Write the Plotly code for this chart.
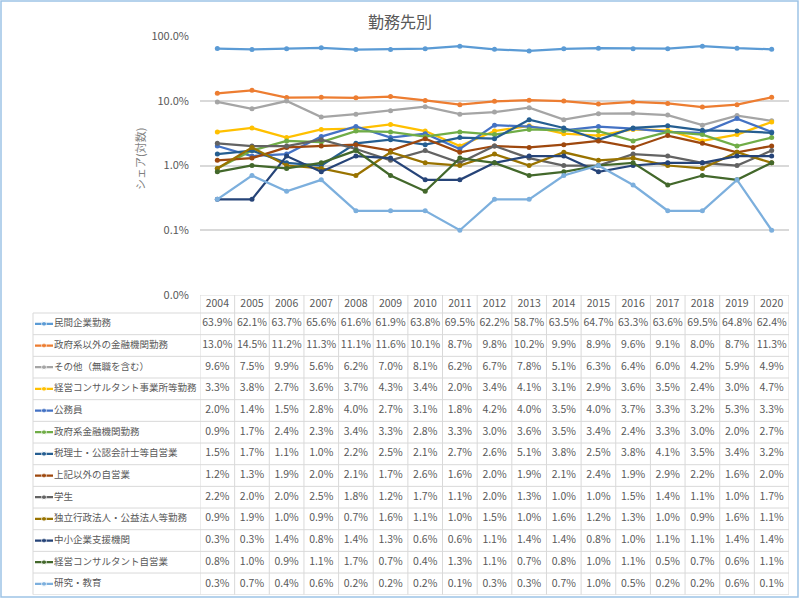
import plotly.graph_objects as go

years = list(range(2004, 2021))

series_names = [
    "民間企業勤務",
    "政府系以外の金融機関勤務",
    "その他（無職を含む）",
    "経営コンサルタント事業所等勤務",
    "公務員",
    "政府系金融機関勤務",
    "税理士・公認会計士等自営業",
    "上記以外の自営業",
    "学生",
    "独立行政法人・公益法人等勤務",
    "中小企業支援機関",
    "経営コンサルタント自営業",
    "研究・教育",
]

minkan = [63.9, 62.1, 63.7, 65.6, 61.6, 61.9, 63.8, 69.5, 62.2, 58.7, 63.5, 64.7, 63.3, 63.6, 69.5, 64.8, 62.4]
kinyu_other = [13.0, 14.5, 11.2, 11.3, 11.1, 11.6, 10.1, 8.7, 9.8, 10.2, 9.9, 8.9, 9.6, 9.1, 8.0, 8.7, 11.3]
sonota = [9.6, 7.5, 9.9, 5.6, 6.2, 7.0, 8.1, 6.2, 6.7, 7.8, 5.1, 6.3, 6.4, 6.0, 4.2, 5.9, 4.9]
consul_office = [3.3, 3.8, 2.7, 3.6, 3.7, 4.3, 3.4, 2.0, 3.4, 4.1, 3.1, 2.9, 3.6, 3.5, 2.4, 3.0, 4.7]
koumuin = [2.0, 1.4, 1.5, 2.8, 4.0, 2.7, 3.1, 1.8, 4.2, 4.0, 3.5, 4.0, 3.7, 3.3, 3.2, 5.3, 3.3]
kinyu_gov = [0.9, 1.7, 2.4, 2.3, 3.4, 3.3, 2.8, 3.3, 3.0, 3.6, 3.5, 3.4, 2.4, 3.3, 3.0, 2.0, 2.7]
zeirishi = [1.5, 1.7, 1.1, 1.0, 2.2, 2.5, 2.1, 2.7, 2.6, 5.1, 3.8, 2.5, 3.8, 4.1, 3.5, 3.4, 3.2]
jieigyo = [1.2, 1.3, 1.9, 2.0, 2.1, 1.7, 2.6, 1.6, 2.0, 1.9, 2.1, 2.4, 1.9, 2.9, 2.2, 1.6, 2.0]
gakusei = [2.2, 2.0, 2.0, 2.5, 1.8, 1.2, 1.7, 1.1, 2.0, 1.3, 1.0, 1.0, 1.5, 1.4, 1.1, 1.0, 1.7]
dokuritsu = [0.9, 1.9, 1.0, 0.9, 0.7, 1.6, 1.1, 1.0, 1.5, 1.0, 1.6, 1.2, 1.3, 1.0, 0.9, 1.6, 1.1]
chusho = [0.3, 0.3, 1.4, 0.8, 1.4, 1.3, 0.6, 0.6, 1.1, 1.4, 1.4, 0.8, 1.0, 1.1, 1.1, 1.4, 1.4]
consul_self = [0.8, 1.0, 0.9, 1.1, 1.7, 0.7, 0.4, 1.3, 1.1, 0.7, 0.8, 1.0, 1.1, 0.5, 0.7, 0.6, 1.1]
kenkyu = [0.3, 0.7, 0.4, 0.6, 0.2, 0.2, 0.2, 0.1, 0.3, 0.3, 0.7, 1.0, 0.5, 0.2, 0.2, 0.6, 0.1]

series_values = [minkan, kinyu_other, sonota, consul_office, koumuin, kinyu_gov,
                 zeirishi, jieigyo, gakusei, dokuritsu, chusho, consul_self, kenkyu]

colors = ["#5B9BD5", "#ED7D31", "#A5A5A5", "#FFC000", "#4472C4", "#70AD47",
          "#255E91", "#9E480E", "#636363", "#997300", "#264478", "#43682B", "#7CAFDD"]

ytick_vals = [0.0001, 0.001, 0.01, 0.1, 1.0]

W, H = 800, 600
def px(x): return x / W
def py(y): return 1 - y / H

TXT = "#595959"
GRID = "#d9d9d9"
FONT = "Noto Sans CJK JP"

# table geometry
tbl_top = 295
hdr_h = 18
row_h = 21.67
nrows = len(series_names)
tbl_bot = tbl_top + hdr_h + nrows * row_h
hdr_units = hdr_h / row_h
y2_top = -0.5 - hdr_units
y2_bot = nrows - 0.5

fig = go.Figure()

# main chart lines
for name, vals, c in zip(series_names, series_values, colors):
    fig.add_trace(go.Scatter(
        x=years, y=[v / 100 for v in vals], name=name, mode="lines+markers",
        line=dict(color=c, width=2.25), marker=dict(color=c, size=5),
        xaxis="x", yaxis="y", showlegend=False))

# table header years
fig.add_trace(go.Scatter(
    x=years, y=[-0.5 - hdr_units / 2] * len(years), mode="text",
    text=[str(y) for y in years], textfont=dict(family=FONT, size=10.5, color=TXT),
    xaxis="x", yaxis="y2", showlegend=False, hoverinfo="skip"))

# table values, legend keys and labels
for i, (name, vals, c) in enumerate(zip(series_names, series_values, colors)):
    fig.add_trace(go.Scatter(
        x=years, y=[i] * len(years), mode="text",
        text=[f"{v:.1f}%" for v in vals], textfont=dict(family=FONT, size=10.5, color=TXT),
        xaxis="x", yaxis="y2", showlegend=False, hoverinfo="skip"))
    fig.add_trace(go.Scatter(
        x=[35, 44, 53], y=[i, i, i], mode="lines+markers",
        line=dict(color=c, width=2.25), marker=dict(color=c, size=[0, 5, 0]),
        xaxis="x3", yaxis="y2", showlegend=False, hoverinfo="skip"))
    fig.add_trace(go.Scatter(
        x=[54], y=[i], mode="text", text=[name], textposition="middle right",
        textfont=dict(family=FONT, size=9.5, color=TXT),
        xaxis="x3", yaxis="y2", showlegend=False, hoverinfo="skip"))

shapes = []
line = dict(color=GRID, width=1)
for k in range(len(years) + 1):
    xv = years[0] - 0.5 + k
    shapes.append(dict(type="line", xref="x", yref="y2", x0=xv, x1=xv,
                       y0=y2_top, y1=y2_bot, line=line))
shapes.append(dict(type="line", xref="x", yref="y2", x0=years[0] - 0.5, x1=years[-1] + 0.5,
                   y0=y2_top, y1=y2_top, line=line))
for j in range(nrows + 1):
    yv = -0.5 + j
    shapes.append(dict(type="line", xref="paper", yref="y2", x0=px(33), x1=px(789),
                       y0=yv, y1=yv, line=line))
shapes.append(dict(type="line", xref="paper", yref="y2", x0=px(33), x1=px(33),
                   y0=-0.5, y1=y2_bot, line=line))
shapes.append(dict(type="rect", xref="paper", yref="paper", x0=px(1), x1=px(798),
                   y0=py(597), y1=py(1), line=dict(color="#9DC3E6", width=1.5)))

fig.update_layout(
    width=W, height=H,
    margin=dict(l=0, r=0, t=0, b=0, autoexpand=False),
    paper_bgcolor="white", plot_bgcolor="white",
    font=dict(family=FONT, size=11, color=TXT),
    showlegend=False,
    shapes=shapes,
    xaxis=dict(domain=[px(200), px(789)], range=[years[0] - 0.5, years[-1] + 0.5],
               showgrid=False, showticklabels=False, zeroline=False, showline=False,
               anchor="y", fixedrange=True),
    yaxis=dict(type="log", domain=[py(tbl_top), py(36)], range=[-4, 0],
               tickvals=ytick_vals, tickformat=".1%", showgrid=True,
               gridcolor=GRID, gridwidth=1.5, zeroline=False, showline=False,
               ticks="", ticklabelstandoff=10,
               tickfont=dict(family=FONT, size=11, color=TXT), anchor="x"),
    yaxis2=dict(domain=[py(tbl_bot), py(tbl_top)], range=[y2_bot, y2_top],
                visible=False, anchor="x"),
    xaxis3=dict(domain=[px(33), px(200)], range=[33, 200], visible=False, anchor="y2"),
    annotations=[
        dict(text="勤務先別", x=0.5, y=py(21), xref="paper", yref="paper",
             xanchor="center", yanchor="middle",
             showarrow=False, font=dict(family=FONT, size=16, color=TXT)),
        dict(text="シェア(対数)", x=px(140), y=py(159), xref="paper", yref="paper",
             xanchor="center", yanchor="middle",
             showarrow=False, textangle=-90, font=dict(family=FONT, size=11, color="#7F7F7F")),
    ],
)

fig.write_html("out.html", config={"displayModeBar": False},
               post_script="document.body.style.margin='0';document.body.style.overflow='hidden';")
